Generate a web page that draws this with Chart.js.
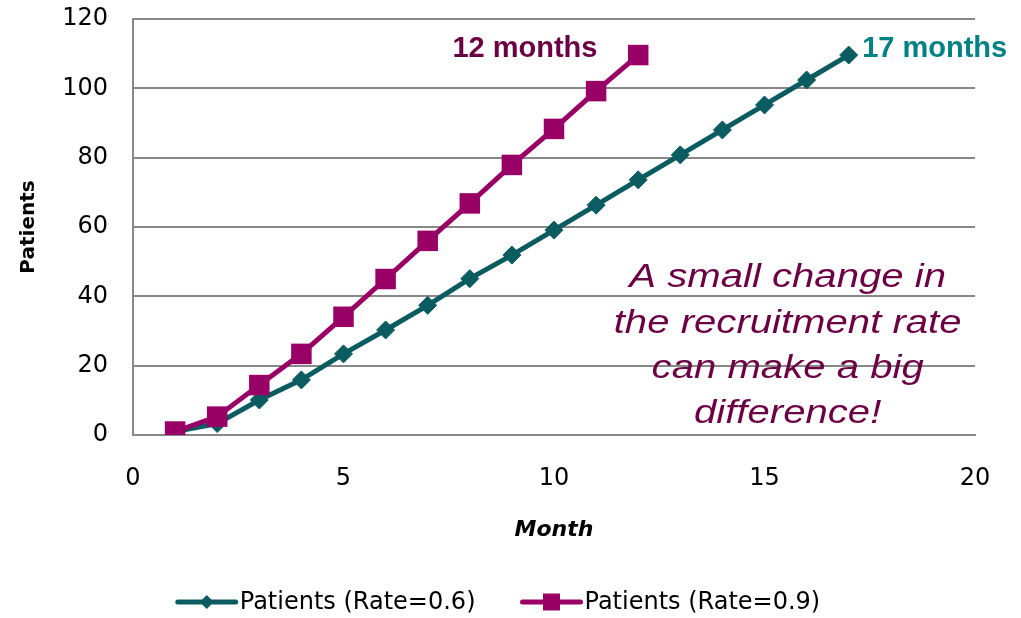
<!DOCTYPE html>
<html>
<head>
<title>Patients by month</title>
<script src="https://cdn.jsdelivr.net/npm/chart.js@4/dist/chart.umd.min.js"></script>
<style>
html, body { margin: 0; padding: 0; background: #fff; }
#wrap { width: 1021px; height: 618px; }
</style>
</head>
<body>
<div id="wrap"><canvas id="chart"></canvas></div>

<script>
// months and patient counts
var MONTHS_A = [1, 2, 3, 4, 5, 6, 7, 8, 9, 10, 11, 12, 13, 14, 15, 16, 17];
var PATIENTS_A = [1, 3.3, 10.1, 15.9, 23.4, 30.3, 37.4, 45.1, 51.9, 59.1, 66.3, 73.6, 80.8, 88, 95.2, 102.4, 109.6];
var MONTHS_B = [1, 2, 3, 4, 5, 6, 7, 8, 9, 10, 11, 12];
var PATIENTS_B = [1, 5.3, 14.4, 23.4, 34.1, 45, 56, 66.8, 77.9, 88.3, 99.2, 109.6];

var LABEL_A = 'Patients (Rate=0.6)';
var LABEL_B = 'Patients (Rate=0.9)';
var X_TITLE = 'Month';
var Y_TITLE = 'Patients';
var END_NOTE_B = '12 months';
var END_NOTE_A = '17 months';
var MESSAGE = ['A small change in', 'the recruitment rate', 'can make a big', 'difference!'];

var TEAL = '#0b5c61';
var MAGENTA = '#990066';
var GRID = '#888888';

function points(xs, ys) {
    return xs.map(function (x, i) { return { x: x, y: ys[i] }; });
}

function marker(ctx, style, x, y, r) {
    ctx.beginPath();
    if (style === 'rect') {
        var s = Math.SQRT1_2 * r;
        ctx.rect(x - s, y - s, 2 * s, 2 * s);
    } else {
        ctx.moveTo(x - r, y);
        ctx.lineTo(x, y - r);
        ctx.lineTo(x + r, y);
        ctx.lineTo(x, y + r);
        ctx.closePath();
    }
    ctx.fill();
}

// text labels inside the plot
var notes = {
    id: 'notes',
    afterDatasetsDraw: function (chart) {
        var ctx = chart.ctx, xs = chart.scales.x, ys = chart.scales.y;
        ctx.save();
        ctx.textBaseline = 'alphabetic';
        ctx.font = 'bold 29px "Liberation Sans", Arial, sans-serif';
        ctx.fillStyle = '#6b0043';
        ctx.textAlign = 'center';
        ctx.fillText(END_NOTE_B, xs.getPixelForValue(9.31), ys.getPixelForValue(109.1));
        ctx.fillStyle = '#008284';
        ctx.textAlign = 'left';
        ctx.fillText(END_NOTE_A, xs.getPixelForValue(17.32), ys.getPixelForValue(109.1));

        // the message is set in a wide italic, so stretch it a little
        ctx.font = 'italic 34px "Liberation Sans", Arial, sans-serif';
        ctx.fillStyle = '#6b0043';
        ctx.textAlign = 'center';
        var cx = xs.getPixelForValue(15.55), y0 = ys.getPixelForValue(42.6);
        MESSAGE.forEach(function (line, i) {
            ctx.save();
            ctx.translate(cx, y0 + i * 45.3);
            ctx.scale(1.18, 1);
            ctx.fillText(line, 0, 0);
            ctx.restore();
        });
        ctx.restore();
    }
};

// legend drawn by hand: line with marker, then label
var legendLine = {
    id: 'legendLine',
    afterDraw: function (chart) {
        var ctx = chart.ctx;
        var items = chart.data.datasets.slice().sort(function (a, b) { return b.order - a.order; });
        ctx.save();
        ctx.font = '24px "DejaVu Sans", sans-serif';
        ctx.textBaseline = 'middle';
        ctx.textAlign = 'left';
        var lineLen = 58, gap = 4, between = 47, y = 602;
        var total = 0;
        items.forEach(function (d, i) {
            total += lineLen + gap + ctx.measureText(d.label).width + (i ? between : 0);
        });
        var x = 499 - total / 2;
        items.forEach(function (d) {
            ctx.strokeStyle = d.borderColor;
            ctx.fillStyle = d.borderColor;
            ctx.lineWidth = 5;
            ctx.lineCap = 'round';
            ctx.beginPath();
            ctx.moveTo(x, y);
            ctx.lineTo(x + lineLen, y);
            ctx.stroke();
            marker(ctx, d.pointStyle, x + lineLen / 2, y, d.pointStyle === 'rect' ? 12 : 7);
            ctx.fillStyle = '#000';
            ctx.fillText(d.label, x + lineLen + gap, y + 1);
            x += lineLen + gap + ctx.measureText(d.label).width + between;
        });
        ctx.restore();
    }
};

var ctx = document.getElementById('chart').getContext('2d');
var CHART = new Chart(ctx, {
    type: 'line',
    data: {
        datasets: [{
            label: LABEL_A,
            data: points(MONTHS_A, PATIENTS_A),
            order: 2,
            borderColor: TEAL,
            backgroundColor: TEAL,
            borderWidth: 5,
            pointStyle: 'rectRot',
            pointRadius: 9,
            pointBackgroundColor: TEAL,
            pointBorderColor: TEAL,
            pointBorderWidth: 1
        }, {
            label: LABEL_B,
            data: points(MONTHS_B, PATIENTS_B),
            order: 1,
            borderColor: MAGENTA,
            backgroundColor: MAGENTA,
            borderWidth: 5,
            pointStyle: 'rect',
            pointRadius: 14.5,
            pointBackgroundColor: MAGENTA,
            pointBorderColor: MAGENTA,
            pointBorderWidth: 0
        }]
    },
    options: {
        responsive: true,
        maintainAspectRatio: false,
        animation: false,
        devicePixelRatio: 1,
        layout: { padding: { left: 17, top: 19, right: 46, bottom: 75 } },
        plugins: {
            legend: { display: false },
            tooltip: { enabled: false }
        },
        scales: {
            x: {
                type: 'linear',
                min: 0,
                max: 20,
                afterFit: function (s) { s.height = 108; },
                ticks: {
                    stepSize: 5,
                    padding: 29,
                    color: '#000',
                    font: { family: '"DejaVu Sans", sans-serif', size: 24 }
                },
                grid: { display: false, drawTicks: false },
                border: { display: true, color: GRID, width: 2 },
                title: {
                    display: true,
                    text: X_TITLE,
                    color: '#000',
                    padding: 0,
                    font: { family: '"DejaVu Sans", sans-serif', size: 22, weight: 'bold', style: 'italic' }
                }
            },
            y: {
                min: 0,
                max: 120,
                // tick padding would otherwise push the plot down
                afterFit: function (s) { s.width = 116; s.paddingTop = 0; s.paddingBottom = 0; },
                ticks: {
                    stepSize: 20,
                    padding: 25,
                    color: '#000',
                    font: { family: '"DejaVu Sans", sans-serif', size: 24 }
                },
                grid: { color: GRID, lineWidth: 2, drawTicks: false },
                border: { display: true, color: GRID, width: 2 },
                title: {
                    display: true,
                    text: Y_TITLE,
                    color: '#000',
                    padding: 0,
                    font: { family: '"DejaVu Sans", sans-serif', size: 20, weight: 'bold' }
                }
            }
        }
    },
    plugins: [notes, legendLine]
});
</script>
</body>
</html>
